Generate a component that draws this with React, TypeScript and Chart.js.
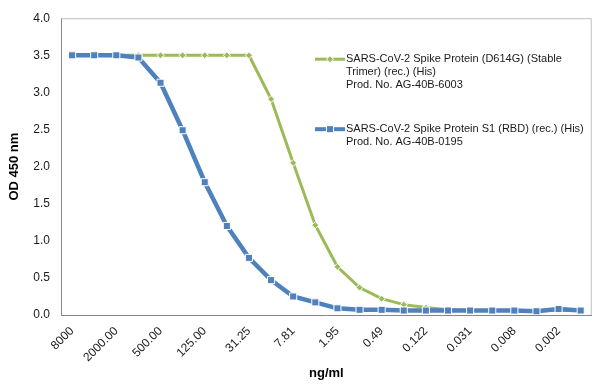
import React, { useEffect, useRef } from "react";
import { Chart, registerables } from "chart.js";

Chart.register(...registerables);

const categories = [
  "8000", "4000.00", "2000.00", "1000.00", "500.00", "250.00", "125.00", "62.50",
  "31.25", "15.63", "7.81", "3.91", "1.95", "0.98", "0.49", "0.244",
  "0.122", "0.061", "0.031", "0.015", "0.008", "0.004", "0.002", "0.001",
];

const trimerValues = [
  3.5, 3.5, 3.5, 3.5, 3.5, 3.5, 3.5, 3.5,
  3.5, 2.91, 2.05, 1.21, 0.65, 0.37, 0.22, 0.14,
  0.1, 0.07, 0.06, 0.06, 0.06, 0.06, 0.06, 0.06,
];

const rbdValues = [
  3.5, 3.5, 3.5, 3.47, 3.13, 2.49, 1.79, 1.2,
  0.77, 0.47, 0.25, 0.17, 0.09, 0.07, 0.07, 0.06,
  0.06, 0.06, 0.06, 0.06, 0.06, 0.05, 0.08, 0.06,
];

const trimerLegend = [
  "SARS-CoV-2 Spike Protein (D614G) (Stable",
  "Trimer) (rec.) (His)",
  "Prod. No. AG-40B-6003",
];
const rbdLegend = [
  "SARS-CoV-2 Spike Protein S1 (RBD) (rec.) (His)",
  "Prod. No. AG-40B-0195",
];

const yTitle = "OD 450 nm";
const xTitle = "ng/ml";

const GREEN = "#9BBB59";
const BLUE = "#4F81BD";
const FONT = "'Liberation Sans', Arial, sans-serif";

const frameAndLegend = {
  id: "frameAndLegend",
  afterDraw(chart: any) {
    const { ctx, chartArea } = chart;
    ctx.save();
    ctx.strokeStyle = "#bfbfbf";
    ctx.lineWidth = 1;
    ctx.beginPath();
    ctx.moveTo(chartArea.left, chartArea.top + 0.5);
    ctx.lineTo(chartArea.right - 0.5, chartArea.top + 0.5);
    ctx.lineTo(chartArea.right - 0.5, chartArea.bottom);
    ctx.stroke();

    const drawEntry = (y: number, color: string, width: number, style: string, radius: number, lines: string[]) => {
      const x0 = chartArea.left + 254;
      const x1 = x0 + 30;
      ctx.strokeStyle = color;
      ctx.lineWidth = width;
      ctx.beginPath();
      ctx.moveTo(x0, y);
      ctx.lineTo(x1, y);
      ctx.stroke();
      ctx.fillStyle = color;
      ctx.strokeStyle = "#fff";
      ctx.lineWidth = 1;
      const cx = (x0 + x1) / 2;
      ctx.beginPath();
      if (style === "rect") {
        const s = radius / Math.SQRT2;
        ctx.rect(cx - s, y - s, 2 * s, 2 * s);
      } else {
        ctx.moveTo(cx, y - radius);
        ctx.lineTo(cx + radius, y);
        ctx.lineTo(cx, y + radius);
        ctx.lineTo(cx - radius, y);
        ctx.closePath();
      }
      ctx.fill();
      ctx.stroke();
      ctx.fillStyle = "#1a1a1a";
      ctx.font = `11px ${FONT}`;
      ctx.textAlign = "left";
      ctx.textBaseline = "middle";
      lines.forEach((t, i) => ctx.fillText(t, x1 + 1, y + i * 13));
    };
    drawEntry(chartArea.top + 41, GREEN, 3, "rectRot", 3.5, trimerLegend);
    drawEntry(chartArea.top + 111, BLUE, 4, "rect", 5, rbdLegend);
    ctx.restore();
  },
};

export default function App() {
  const ref = useRef<HTMLCanvasElement>(null);
  useEffect(() => {
    if (!ref.current) return;
    const chart = new Chart(ref.current, {
      type: "line",
      data: {
        labels: categories,
        datasets: [
          {
            label: rbdLegend.join(" "),
            data: rbdValues,
            borderColor: BLUE,
            backgroundColor: BLUE,
            borderWidth: 4.5,
            pointStyle: "rect",
            pointRadius: 5,
            pointBorderColor: "#fff",
            pointBorderWidth: 1,
            pointBackgroundColor: BLUE,
            tension: 0,
          },
          {
            label: trimerLegend.join(" "),
            data: trimerValues,
            borderColor: GREEN,
            backgroundColor: GREEN,
            borderWidth: 3,
            pointStyle: "rectRot",
            pointRadius: 3.5,
            pointBorderColor: "#fff",
            pointBorderWidth: 1,
            pointBackgroundColor: GREEN,
            tension: 0,
          },
        ],
      },
      options: {
        animation: false,
        responsive: false,
        maintainAspectRatio: false,
        layout: { padding: { top: 11, right: 6, left: 0, bottom: 0 } },
        plugins: { legend: { display: false }, tooltip: { enabled: false } },
        scales: {
          x: {
            offset: true,
            grid: { display: false, drawTicks: false },
            border: { display: true, color: "#868686", width: 1 },
            ticks: {
              autoSkip: false,
              maxRotation: 45,
              minRotation: 45,
              padding: 9,
              color: "#1a1a1a",
              font: { family: FONT, size: 12 },
              callback: (_v: any, i: number) => (i % 2 === 0 ? categories[i] : ""),
            },
            title: {
              display: true,
              text: xTitle,
              color: "#000",
              font: { family: FONT, size: 13, weight: "bold" },
              padding: { top: 0, bottom: 5 },
            },
            afterFit: (s: any) => {
              s.height = 71;
            },
          },
          y: {
            min: 0,
            max: 4,
            grid: { display: false, drawTicks: false },
            border: { display: true, color: "#868686", width: 1 },
            ticks: {
              stepSize: 0.5,
              padding: 11,
              color: "#1a1a1a",
              font: { family: FONT, size: 12 },
              callback: (v: any) => Number(v).toFixed(1),
            },
            title: {
              display: true,
              text: yTitle,
              color: "#000",
              font: { family: FONT, size: 13, weight: "bold" },
              padding: { top: 7, bottom: 0 },
            },
            afterFit: (s: any) => {
              s.width = 61;
            },
          },
        },
      },
      plugins: [frameAndLegend],
    });
    return () => chart.destroy();
  }, []);
  return (
    <div style={{ position: "absolute", left: 0, top: 0, width: 600, height: 386, background: "#fff" }}>
      <canvas ref={ref} width={600} height={386} style={{ width: 600, height: 386 }} />
    </div>
  );
}
